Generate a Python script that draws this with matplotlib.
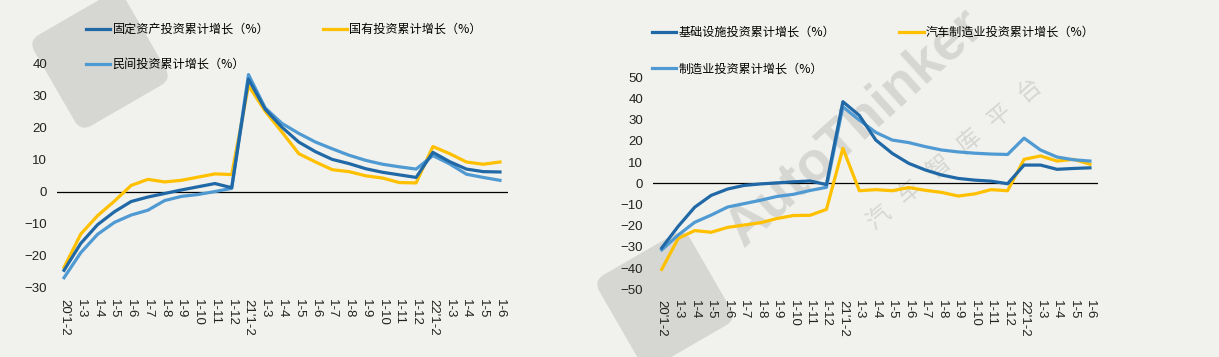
import matplotlib
matplotlib.use("Agg")
import matplotlib.pyplot as plt
from matplotlib.patches import FancyBboxPatch
import matplotlib.transforms as mtransforms

# ---------------- data ----------------
x_labels = ["20'1-2", "1-3", "1-4", "1-5", "1-6", "1-7", "1-8", "1-9", "1-10", "1-11", "1-12",
            "21'1-2", "1-3", "1-4", "1-5", "1-6", "1-7", "1-8", "1-9", "1-10", "1-11", "1-12",
            "22'1-2", "1-3", "1-4", "1-5", "1-6"]

fixed_asset = [-24.5, -16.1, -10.3, -6.3, -3.1, -1.7, -0.6, 0.5, 1.5, 2.5, 1.2,
               35.0, 25.6, 20.0, 15.4, 12.4, 10.0, 8.7, 7.1, 6.0, 5.2, 4.4,
               12.2, 9.3, 7.0, 6.2, 6.1]
state_owned = [-23.6, -13.2, -7.5, -3.0, 1.9, 3.8, 3.0, 3.5, 4.5, 5.5, 5.3,
               33.0, 25.0, 18.5, 11.8, 9.2, 6.8, 6.2, 4.9, 4.2, 2.8, 2.7,
               14.0, 11.8, 9.2, 8.5, 9.2]
private_inv = [-26.8, -19.0, -13.3, -9.6, -7.3, -5.8, -2.8, -1.5, -0.9, 0.0, 1.0,
               36.4, 26.0, 21.2, 18.1, 15.4, 13.3, 11.3, 9.7, 8.5, 7.7, 7.0,
               11.2, 8.6, 5.4, 4.4, 3.5]

infrastructure = [-30.5, -20.3, -11.3, -5.7, -2.7, -1.0, -0.3, 0.2, 0.7, 1.1, -0.6,
                  38.5, 32.0, 20.4, 14.1, 9.4, 6.3, 3.9, 2.3, 1.5, 1.0, -0.2,
                  8.6, 8.6, 6.6, 7.0, 7.3]
auto_mfg = [-40.6, -26.0, -22.3, -23.1, -20.8, -19.7, -18.6, -16.6, -15.2, -15.1, -12.3,
            16.5, -3.5, -3.0, -3.5, -2.0, -3.3, -4.3, -6.0, -5.0, -3.0, -3.5,
            11.3, 12.9, 10.5, 11.3, 9.0]
manufacturing = [-31.4, -24.4, -18.4, -15.0, -11.2, -9.6, -8.0, -6.2, -5.2, -3.4, -1.9,
                 36.1, 29.8, 24.0, 20.4, 19.2, 17.3, 15.7, 14.8, 14.2, 13.8, 13.6,
                 21.3, 15.7, 12.4, 11.1, 10.5]

left_names = ["固定资产投资累计增长（%）", "国有投资累计增长（%）", "民间投资累计增长（%）"]
right_names = ["基础设施投资累计增长（%）", "汽车制造业投资累计增长（%）", "制造业投资累计增长（%）"]

# ---------------- style ----------------
BG = "#F1F1ED"
DARK = "#2068A6"
YELLOW = "#FFC000"
LIGHT = "#4F9AD2"
CJK = ["Noto Sans CJK SC", "DejaVu Sans"]
NUMF = ["Liberation Sans", "DejaVu Sans"]

W, H = 1219, 357
fig = plt.figure(figsize=(W / 100, H / 100), dpi=100)
fig.patch.set_facecolor(BG)

# ---------------- watermark ----------------
wm_color = "#D6D6D2"
def rot_square(cx, cy, size, angle):
    p = FancyBboxPatch((cx - size / 2, cy - size / 2), size, size,
                       boxstyle="round,pad=0,rounding_size=%f" % (size * 0.12),
                       transform=None, facecolor=wm_color, edgecolor="none", zorder=-5)
    t = mtransforms.Affine2D().rotate_deg_around(cx, cy, angle)
    p.set_transform(t)
    fig.add_artist(p)

rot_square(100, H - 60, 105, 30)
rot_square(665, H - 300, 105, 30)
fig.text(855 / W, 1 - 128 / H, "AutoThinker", fontsize=40, fontweight="bold",
         color=wm_color, rotation=42, ha="center", va="center",
         family=["Liberation Sans"], zorder=-5)
fig.text(955 / W, 1 - 155 / H, "汽   车   智   库   平   台", fontsize=17,
         color=wm_color, rotation=40, ha="center", va="center", family=CJK, zorder=-5)

x = list(range(len(x_labels)))

def setup(ax, ylim, yticks, xlim):
    ax.set_facecolor("none")
    for s in ax.spines.values():
        s.set_visible(False)
    ax.axhline(0, color="black", lw=0.9, zorder=1)
    ax.set_ylim(*ylim)
    ax.set_yticks(yticks)
    ax.set_xlim(*xlim)
    ax.set_xticks(x)
    ax.set_xticklabels(x_labels, rotation=-90, family=NUMF, fontsize=9.5, color="#222222")
    ax.tick_params(axis="x", length=0, pad=8)
    ax.tick_params(axis="y", length=0, pad=7, labelsize=9.5, labelcolor="#222222")
    for lab in ax.get_yticklabels():
        lab.set_family(NUMF)
    for lab in ax.get_xticklabels():
        lab.set_va("top")

LEG = dict(ncol=2, loc="upper left", frameon=False, prop={"family": CJK, "size": 8.7},
           handlelength=2.0, handletextpad=0.2, borderpad=0, borderaxespad=0)

# ---------------- left chart ----------------
axL = fig.add_axes([57 / W, 1 - 288 / H, (508 - 57) / W, (288 - 63) / H])
setup(axL, (-30, 40), list(range(-30, 41, 10)), (-0.42, 26.48))
l1, = axL.plot(x, fixed_asset, color=DARK, lw=2.3, zorder=4)
l2, = axL.plot(x, state_owned, color=YELLOW, lw=2.3, zorder=3)
l3, = axL.plot(x, private_inv, color=LIGHT, lw=2.3, zorder=3)
axL.legend([l1, l3, l2], [left_names[0], left_names[2], left_names[1]],
           bbox_to_anchor=(86 / W, 1 - 23 / H), bbox_transform=fig.transFigure,
           columnspacing=4.4, labelspacing=1.8, **LEG)

# ---------------- right chart ----------------
axR = fig.add_axes([653 / W, 1 - 289.3 / H, (1098 - 653) / W, (289.3 - 77.3) / H])
setup(axR, (-50, 50), list(range(-50, 51, 10)), (-0.53, 26.49))
r1, = axR.plot(x, infrastructure, color=DARK, lw=2.3, zorder=4)
r2, = axR.plot(x, auto_mfg, color=YELLOW, lw=2.3, zorder=3)
r3, = axR.plot(x, manufacturing, color=LIGHT, lw=2.3, zorder=3)
axR.legend([r1, r3, r2], [right_names[0], right_names[2], right_names[1]],
           bbox_to_anchor=(652 / W, 1 - 26 / H), bbox_transform=fig.transFigure,
           columnspacing=5.3, labelspacing=1.95, **LEG)

fig.savefig("out.png", dpi=100, facecolor=BG)
